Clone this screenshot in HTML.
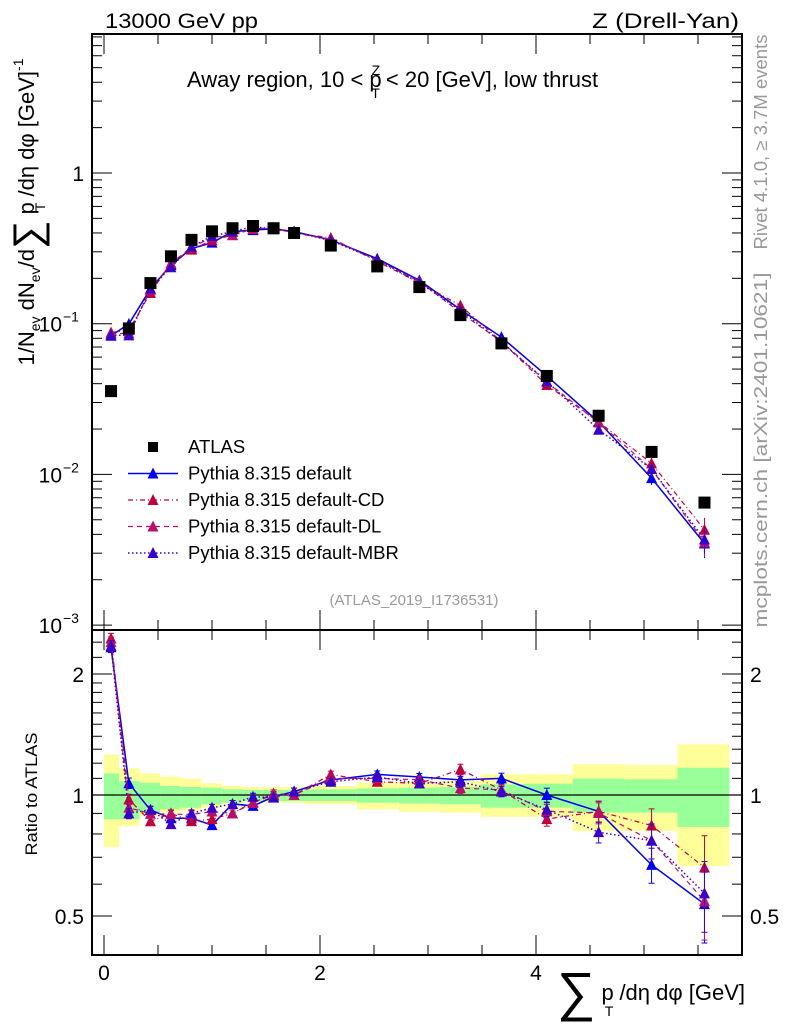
<!DOCTYPE html>
<html><head><meta charset="utf-8"><style>
body{margin:0;background:#fff;}
svg{display:block;font-family:"Liberation Sans",Arial,sans-serif;}
</style></head><body>
<svg id="c" width="786" height="1024" viewBox="0 0 786 1024" xmlns="http://www.w3.org/2000/svg">
<g id="bands"></g>
<g id="axes"></g>
<g id="marks"></g>
<text x="105" y="28" font-size="21" textLength="153" lengthAdjust="spacingAndGlyphs">13000 GeV pp</text>
<text x="592" y="28" font-size="21" textLength="147" lengthAdjust="spacingAndGlyphs">Z (Drell-Yan)</text>
<text x="187" y="87" font-size="22">Away region, 10 &lt; p<tspan font-size="14" dy="-12" dx="-10">Z</tspan><tspan font-size="14" dy="23" dx="-9">T</tspan><tspan dy="-11"> &lt; 20 [GeV], low thrust</tspan></text>
<text transform="translate(767,142) rotate(-90)" font-size="18" fill="#999" text-anchor="middle" textLength="215" lengthAdjust="spacingAndGlyphs">Rivet 4.1.0, ≥ 3.7M events</text>
<text transform="translate(767,450) rotate(-90)" font-size="18" fill="#999" text-anchor="middle" textLength="355" lengthAdjust="spacingAndGlyphs">mcplots.cern.ch [arXiv:2401.10621]</text>
<text x="414" y="605" font-size="15" fill="#999" text-anchor="middle">(ATLAS_2019_I1736531)</text>
<g transform="translate(34,212) rotate(-90)">
<text x="0" y="0" font-size="22" text-anchor="middle">1/N<tspan font-size="14" dy="6">ev</tspan><tspan dy="-6"> dN</tspan><tspan font-size="14" dy="6">ev</tspan><tspan dy="-6">/d</tspan><tspan font-size="40" dy="7">∑</tspan><tspan dy="-7"> p</tspan><tspan font-size="14" dy="11" dx="-9">T</tspan><tspan dy="-11"> /dη dφ  [GeV]</tspan><tspan font-size="14" dy="-11">-1</tspan></text>
</g>
<text transform="translate(37,794) rotate(-90)" font-size="17" text-anchor="middle" textLength="123" lengthAdjust="spacingAndGlyphs">Ratio to ATLAS</text>
<g>
<text x="745" y="1000" font-size="22" text-anchor="end"><tspan font-size="54" dy="10">∑</tspan><tspan dy="-10"> p</tspan><tspan font-size="14" dy="16" dx="-9">T</tspan><tspan dy="-16"> /dη dφ [GeV]</tspan></text>
</g>
<g id="legend"></g>
</svg>
<script>
// ---- data ----
const xCenters=[0.065,0.23,0.43,0.62,0.81,1.0,1.19,1.38,1.57,1.76,2.1,2.53,2.92,3.3,3.68,4.1,4.58,5.07,5.56];
const binEdges=[0,0.14,0.33,0.52,0.71,0.9,1.09,1.28,1.47,1.66,1.86,2.34,2.73,3.11,3.49,3.88,4.34,4.82,5.31,5.79];
const atlas=[0.0357,0.093,0.186,0.28,0.36,0.41,0.43,0.445,0.43,0.40,0.33,0.24,0.175,0.114,0.074,0.045,0.0245,0.0141,0.0065];
const pyDefault=[0.0832,0.0995,0.1707,0.245,0.315,0.345,0.4085,0.418,0.4257,0.408,0.3597,0.27,0.194,0.1243,0.0814,0.045,0.0223,0.00945,0.00348];
const pyCD=[0.0875,0.0907,0.16,0.252,0.31,0.357,0.387,0.427,0.43,0.40,0.371,0.259,0.187,0.132,0.0762,0.0392,0.0223,0.01184,0.00429];
const pyDL=[0.0857,0.0865,0.167,0.251,0.322,0.373,0.387,0.425,0.434,0.40,0.363,0.264,0.191,0.1186,0.0762,0.041,0.0221,0.01086,0.00354];
const pyMBR=[0.0839,0.0837,0.171,0.237,0.324,0.381,0.4085,0.4406,0.4236,0.408,0.356,0.266,0.187,0.123,0.0755,0.0414,0.0198,0.01086,0.0037];
const relErr=[0.03,0.03,0.02,0.02,0.02,0.02,0.02,0.02,0.02,0.02,0.02,0.02,0.02,0.03,0.03,0.04,0.06,0.1,0.2];
const yellowUp=[1.262,1.165,1.132,1.111,1.098,1.069,1.053,1.047,1.047,1.047,1.053,1.073,1.079,1.083,1.126,1.126,1.192,1.188,1.337];
const yellowDn=[0.742,0.837,0.887,0.904,0.912,0.930,0.948,0.957,0.957,0.957,0.948,0.921,0.909,0.904,0.882,0.882,0.814,0.814,0.666];
const greenUp=[1.132,1.083,1.073,1.053,1.047,1.043,1.033,1.029,1.029,1.029,1.033,1.039,1.043,1.047,1.063,1.067,1.098,1.094,1.169];
const greenDn=[0.870,0.870,0.904,0.921,0.930,0.948,0.957,0.966,0.966,0.966,0.966,0.957,0.952,0.948,0.930,0.930,0.904,0.904,0.833];
const mainTicks=[1,0.1,0.01,0.001];
const mainTickLabels=["1","10","10","10"];
const mainTickExp=["","−1","−2","−3"];
const ratioTicks=[0.5,1,2];
const ratioTickLabels=["0.5","1","2"];
const xTicks=[0,2,4];
const xTickLabels=["0","2","4"];

const NS="http://www.w3.org/2000/svg";
const L=92,R=742,T=34,MB=630,RB=955;
const X=v=>104+v*108;
const Y=v=>173-Math.log10(v)*150.7;
const RY=v=>795-Math.log2(v)*121;
function mk(tag,at,parent){const e=document.createElementNS(NS,tag);for(const k in at)e.setAttribute(k,at[k]);parent.appendChild(e);return e;}
const axes=document.getElementById('axes'),marks=document.getElementById('marks'),bands=document.getElementById('bands'),leg=document.getElementById('legend');

for(let i=0;i<binEdges.length-1;i++){
 const x0=X(binEdges[i]),x1=X(binEdges[i+1]);
 const yb=mk('rect',{x:x0,y:RY(yellowUp[i]),width:x1-x0,height:RY(yellowDn[i])-RY(yellowUp[i]),fill:'#ffff99'},bands);
 
 
 const gb=mk('rect',{x:x0,y:RY(greenUp[i]),width:x1-x0,height:RY(greenDn[i])-RY(greenUp[i]),fill:'#99ff99'},bands);
 
 
}
mk('rect',{x:L,y:T,width:R-L,height:MB-T,fill:'none',stroke:'#000','stroke-width':2},axes);
mk('rect',{x:L,y:MB,width:R-L,height:RB-MB,fill:'none',stroke:'#000','stroke-width':2},axes);
mk('line',{x1:L,x2:R,y1:795,y2:795,stroke:'#000','stroke-width':1.3},axes);
for(let d=-3;d<=0;d++){for(let m=1;m<10;m++){const v=m*Math.pow(10,d);const y=Y(v);if(y<T||y>MB)continue;const len=m==1?20:10;
 mk('line',{x1:L,x2:L+len,y1:y,y2:y,stroke:'#000'},axes);mk('line',{x1:R,x2:R-len,y1:y,y2:y,stroke:'#000'},axes);}}
mainTicks.forEach((v,i)=>{const t=mk('text',{x:mainTickExp[i]?62:84,y:Y(v)+8,'font-size':21,'text-anchor':'end'},axes);t.textContent=mainTickLabels[i];
 
 
 if(mainTickExp[i]){const s=mk('text',{x:63,y:Y(v)-2,'font-size':14},axes);s.textContent=mainTickExp[i];}});
[0.4,0.5,0.6,0.7,0.8,0.9,1,1.1,1.2,1.3,1.4,1.5,1.6,1.7,1.8,1.9,2,2.2,2.4].forEach(v=>{const y=RY(v);if(y<MB||y>RB)return;const len=(v==0.5||v==1||v==2)?20:10;
 mk('line',{x1:L,x2:L+len,y1:y,y2:y,stroke:'#000'},axes);mk('line',{x1:R,x2:R-len,y1:y,y2:y,stroke:'#000'},axes);});
ratioTicks.forEach((v,i)=>{const a=mk('text',{x:84,y:RY(v)+8,'font-size':21,'text-anchor':'end'},axes);a.textContent=ratioTickLabels[i];
 
 
 const b=mk('text',{x:750,y:RY(v)+8,'font-size':21},axes);b.textContent=ratioTickLabels[i];
 
 });
for(let k=0;k<=11;k++){const v=k*0.5,x=X(v);if(x>R)continue;const len=(k%4==0)?20:10;
 [[T,1],[MB,1],[MB,-1],[RB,-1]].forEach(([y0,s])=>mk('line',{x1:x,x2:x,y1:y0,y2:y0+s*len,stroke:'#000'},axes));}
xTicks.forEach((v,i)=>{const t=mk('text',{x:X(v),y:980,'font-size':21,'text-anchor':'middle'},axes);t.textContent=xTickLabels[i];
 
 });

function tri(g,x,y,c){mk('polygon',{points:`${x-5.5},${y+5} ${x+5.5},${y+5} ${x},${y-6}`,fill:c},g);}
const series=[
 {name:'pythia-default',data:pyDefault,c:'#0000ee',dash:'',w:1.5},
 {name:'pythia-default-cd',data:pyCD,c:'#c0003c',dash:'5,3,1,3',w:1.2},
 {name:'pythia-default-dl',data:pyDL,c:'#b8106a',dash:'5,4',w:1.2},
 {name:'pythia-default-mbr',data:pyMBR,c:'#3a00c8',dash:'1.5,2.5',w:1.5}];
function clipR(y){return Math.max(MB+2,Math.min(RB-2,y));}
series.forEach(s=>{
 const g=mk('g',{},marks);
 
 
 mk('polyline',{points:s.data.map((v,i)=>X(xCenters[i])+','+Y(v)).join(' '),fill:'none',stroke:s.c,'stroke-width':s.w,'stroke-dasharray':s.dash},g);
 const rp=s.data.map((v,i)=>X(xCenters[i])+','+clipR(RY(v/atlas[i]))).join(' ');
 mk('polyline',{points:rp,fill:'none',stroke:s.c,'stroke-width':s.w,'stroke-dasharray':s.dash},g);
 s.data.forEach((v,i)=>{const x=X(xCenters[i]);
  const e=relErr[i];mk('line',{x1:x,x2:x,y1:Y(v*(1+e)),y2:Y(v*(1-e)),stroke:s.c},g);
  tri(g,x,Y(v),s.c);
  const r=v/atlas[i];const ry=RY(r);
  mk('line',{x1:x,x2:x,y1:clipR(RY(r*(1+e))),y2:clipR(RY(r*(1-e))),stroke:s.c},g);
  mk('line',{x1:x-3,x2:x+3,y1:clipR(RY(r*(1+e))),y2:clipR(RY(r*(1+e))),stroke:s.c},g);
  mk('line',{x1:x-3,x2:x+3,y1:clipR(RY(r*(1-e))),y2:clipR(RY(r*(1-e))),stroke:s.c},g);
  if(ry>MB+4)tri(g,x,ry,s.c);
 });
});
const ga=mk('g',{},marks);


atlas.forEach((v,i)=>{const p=mk('rect',{x:X(xCenters[i])-6,y:Y(v)-6,width:12,height:12,fill:'#000'},ga);
 
 });

const legItems=[['ATLAS','#000','',0],['Pythia 8.315 default','#0000ee','',1.5],['Pythia 8.315 default-CD','#c0003c','5,3,1,3',1.2],['Pythia 8.315 default-DL','#b8106a','5,4',1.2],['Pythia 8.315 default-MBR','#3a00c8','1.5,2.5',1.5]];
legItems.forEach((it,i)=>{const y=447+i*26.5;
 const g=mk('g',{},leg);
 
 
 if(i==0)mk('rect',{x:148,y:y-5,width:10,height:10,fill:'#000'},g);
 else{mk('line',{x1:128,x2:178,y1:y,y2:y,stroke:it[1],'stroke-width':it[3],'stroke-dasharray':it[2]},g);tri(g,153,y,it[1]);}
 const t=mk('text',{x:188,y:y+6,'font-size':18.5},g);t.textContent=it[0];});
</script>
</body></html>
